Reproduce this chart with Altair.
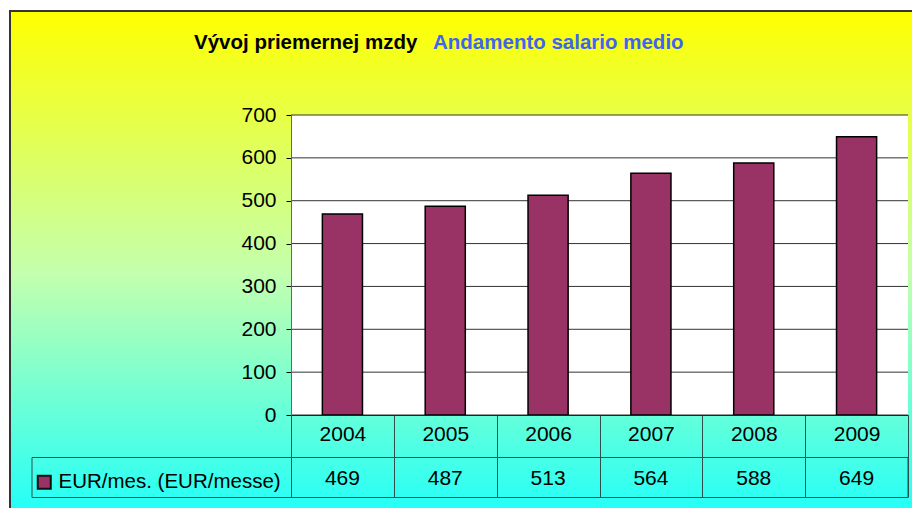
import altair as alt
import pandas as pd

# ---- data ----
years = ["2004", "2005", "2006", "2007", "2008", "2009"]
salaries = [469, 487, 513, 564, 588, 649]
series_name = "EUR/mes. (EUR/messe)"
y_ticks = [0, 100, 200, 300, 400, 500, 600, 700]
title_sk = "Vývoj priemernej mzdy"
title_it = "Andamento salario medio"

df = pd.DataFrame({"year": years, "value": salaries, "series": [series_name] * len(years)})
grid_df = pd.DataFrame({"v": y_ticks})
one = pd.DataFrame({"k": [0]})

FONT = "Liberation Sans"
W, H = 617, 300
LINE = "#2F4F4F"

x_enc = alt.X("year:O", scale=alt.Scale(paddingInner=0, paddingOuter=0),
              axis=alt.Axis(title=None, orient="bottom", domainColor="#222", domainWidth=1,
                            tickBand="extent", tickSize=82, tickColor=LINE, tickWidth=1,
                            labelAngle=0, labelFontSize=21, labelFont=FONT, labelColor="#000",
                            labelBaseline="middle", labelPadding=-62.5, grid=False, zindex=2))

y_scale = alt.Scale(domain=[0, 700], nice=False, zero=True)

base = alt.Chart(df)
deco = alt.Chart(one)

background = deco.mark_rect(
    fill=alt.Gradient(gradient="linear", x1=0, y1=0, x2=0, y2=1,
                      stops=[alt.GradientStop(color="#FFFF00", offset=0),
                             alt.GradientStop(color="#C4FFAE", offset=0.5),
                             alt.GradientStop(color="#14FFFF", offset=1)]),
    stroke="#333333", strokeWidth=2
).encode(x=alt.value(-281), x2=alt.value(640), y=alt.value(-104), y2=alt.value(420))

plot_bg = deco.mark_rect(fill="white").encode(
    x=alt.value(0), x2=alt.value(W), y=alt.value(0), y2=alt.value(H))

grid = alt.Chart(grid_df).mark_rule(color="#333333", strokeWidth=1).encode(
    y=alt.Y("v:Q", scale=y_scale), x=alt.value(0), x2=alt.value(W))

bars = base.mark_bar(width={"band": 0.39}, stroke="black", strokeWidth=1.5).encode(
    x=x_enc,
    y=alt.Y("value:Q", scale=y_scale,
            axis=alt.Axis(title=None, values=y_ticks, grid=False, domainColor="#666666",
                          tickColor="#000", tickSize=5, labelPadding=10, labelFontSize=21,
                          labelFont=FONT, labelColor="#000", zindex=2)),
    color=alt.Color("series:N", scale=alt.Scale(range=["#993366"]),
                    legend=alt.Legend(title=None, orient="none", legendX=-257, legendY=357,
                                      padding=0, symbolType="square", symbolSize=169,
                                      symbolStrokeColor="#111", symbolStrokeWidth=2,
                                      labelFontSize=20.5, labelFont=FONT, labelColor="#000",
                                      labelOffset=4, labelLimit=400, zindex=2)),
)

table_box = deco.mark_rect(fill="transparent", stroke=LINE, strokeWidth=1).encode(
    x=alt.value(-259), x2=alt.value(W), y=alt.value(342.5), y2=alt.value(382.5))

values_text = base.mark_text(fontSize=21, font=FONT, color="#000", baseline="middle").encode(
    x=alt.X("year:O"), y=alt.value(364), text=alt.Text("value:Q"))

t1 = deco.mark_text(text=title_sk, fontSize=20.5, font=FONT, fontWeight="bold", color="#000",
                    align="left", baseline="alphabetic").encode(x=alt.value(-97), y=alt.value(-66))
t2 = deco.mark_text(text=title_it, fontSize=20.5, font=FONT, fontWeight="bold", color="#3F63F2",
                    align="left", baseline="alphabetic").encode(x=alt.value(142), y=alt.value(-66))

chart = alt.layer(background, plot_bg, grid, bars, table_box, values_text, t1, t2).properties(
    width=W, height=H, autosize=alt.AutoSizeParams(type="none"),
    padding={"left": 283, "top": 107, "right": 4, "bottom": 93}
).configure_view(stroke="transparent").configure(background="white")

chart.save("out.html", embed_options={"renderer": "svg", "actions": False})
